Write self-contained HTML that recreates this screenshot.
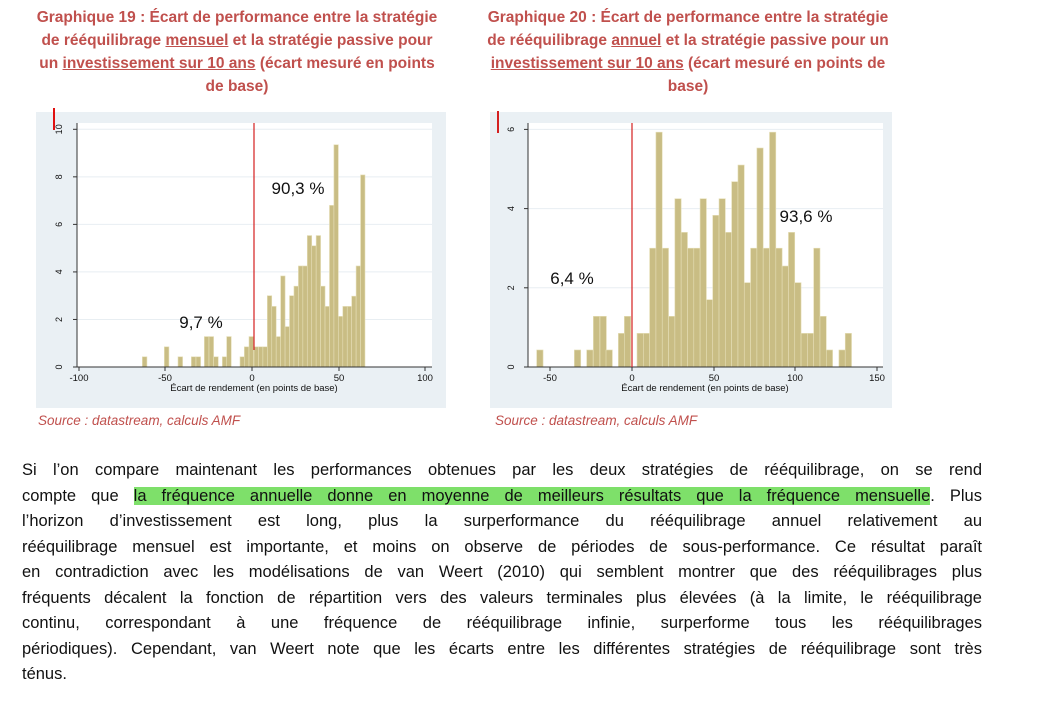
<!DOCTYPE html>
<html><head><meta charset="utf-8">
<style>
body{margin:0;width:1063px;height:706px;background:#fff;position:relative;overflow:hidden;font-family:"Liberation Sans",sans-serif}
.t{position:absolute;top:6px;width:440px;text-align:center;color:#c0504d;font-weight:bold;font-size:15.5px;line-height:23px;white-space:nowrap}
.t u{text-decoration:underline}
.src{position:absolute;top:413px;color:#c0504d;font-style:italic;font-size:13.5px}
.body{position:absolute;left:22px;top:458px;width:960px;font-size:16.5px;color:#111}
.l{height:25.5px;line-height:25.5px;text-align:justify;text-align-last:justify;white-space:nowrap}
.l.n{text-align-last:left}
.hl{background:#7ee06a}
svg{position:absolute;left:0;top:0}
</style></head><body>
<div class="t" style="left:17px">Graphique 19 : Écart de performance entre la stratégie<br>de rééquilibrage <u>mensuel</u> et la stratégie passive pour<br>un <u>investissement sur 10 ans</u> (écart mesuré en points<br>de base)</div>
<div class="t" style="left:468px">Graphique 20 : Écart de performance entre la stratégie<br>de rééquilibrage <u>annuel</u> et la stratégie passive pour un<br><u>investissement sur 10 ans</u> (écart mesuré en points de<br>base)</div>
<svg id="s" width="1063" height="420" xmlns="http://www.w3.org/2000/svg" font-family="Liberation Sans, sans-serif"></svg>
<div class="src" style="left:38px">Source : datastream, calculs AMF</div>
<div class="src" style="left:495px">Source : datastream, calculs AMF</div>
<div class="body">
<div class="l" style="white-space:normal">Si l’on compare maintenant les performances obtenues par les deux stratégies de rééquilibrage, on se rend</div>
<div class="l" style="white-space:normal">compte que <span class="hl">la fréquence annuelle donne en moyenne de meilleurs résultats que la fréquence mensuelle</span>. Plus</div>
<div class="l" style="white-space:normal">l’horizon d’investissement est long, plus la surperformance du rééquilibrage annuel relativement au</div>
<div class="l" style="white-space:normal">rééquilibrage mensuel est importante, et moins on observe de périodes de sous-performance. Ce résultat paraît</div>
<div class="l" style="white-space:normal">en contradiction avec les modélisations de van Weert (2010) qui semblent montrer que des rééquilibrages plus</div>
<div class="l" style="white-space:normal">fréquents décalent la fonction de répartition vers des valeurs terminales plus élevées (à la limite, le rééquilibrage</div>
<div class="l" style="white-space:normal">continu, correspondant à une fréquence de rééquilibrage infinie, surperforme tous les rééquilibrages</div>
<div class="l" style="white-space:normal">périodiques). Cependant, van Weert note que les écarts entre les différentes stratégies de rééquilibrage sont très</div>
<div class="l n">ténus.</div>
</div>
<script>
var s=document.getElementById('s'),h='';
function R(x,y,w,hh,f,st){h+='<rect x="'+x+'" y="'+y+'" width="'+w+'" height="'+hh+'" fill="'+f+'"'+(st?' stroke="'+st+'" stroke-width="0.6"':'')+'/>';}
function L(x1,y1,x2,y2,c,w){h+='<line x1="'+x1+'" y1="'+y1+'" x2="'+x2+'" y2="'+y2+'" stroke="'+c+'" stroke-width="'+w+'"/>';}
function T(x,y,t,sz,a,rot){h+='<text x="'+x+'" y="'+y+'" font-size="'+sz+'" text-anchor="'+(a||'middle')+'" fill="#111"'+(rot?' transform="rotate(-90 '+x+' '+y+')"':'')+'>'+t+'</text>';}
var bar='#c9bd84',edge='#e6dfb8';
R(36,112,410,296,'#eaf0f4');R(77,123,355,244,'#fff');
[0,2,4,6,8,10].forEach(function(v){var y=367-v*23.77;if(v)L(77,y,432,y,'#e8eef2',1);L(73,y,77,y,'#333',1);T(62,y,v,9,'middle',true);});
var n1=[[337,.43],[403,.85],[444,.43],[484,.43],[498,.43],[523,1.28],[537,1.28],[551,.43],[577,.43],[590,1.28],[630,.43],[643,.85],[657,1.28]];
n1.forEach(function(b){R(30+b[0]/3,367-b[1]*23.77,4.6,b[1]*23.77,bar,edge);});
var p1=[.85,.85,.85,3.0,2.55,1.28,3.83,1.7,3.0,3.4,4.25,4.25,5.53,5.1,5.53,3.4,2.55,6.8,9.35,2.13,2.55,2.55,2.98,4.25,8.08];
p1.forEach(function(v,i){R(254+i*4.44,367-v*23.77,4.44,v*23.77,bar,edge);});
L(77,123,77,367,'#333',1);L(77,367,432,367,'#333',1);
[[-100,79],[-50,165],[0,252],[50,339],[100,425]].forEach(function(t){L(t[1],367,t[1],371,'#333',1);T(t[1],381,t[0],9.5);});
T(254,391,'Écart de rendement (en points de base)',9.5);
L(254,123,254,350,'#d42020',1.2);
T(298,194,'90,3 %',17);T(201,328,'9,7 %',17);
L(54,108,54,130,'#e01010',2);
R(490,112,402,296,'#eaf0f4');R(528,123,355,244,'#fff');
[0,2,4,6].forEach(function(v){var y=367-v*39.6;if(v)L(528,y,883,y,'#e8eef2',1);L(524,y,528,y,'#333',1);T(514,y,v,9,'middle',true);});
var n2=[[155,.43],[268,.43],[305,.43],[325,1.28],[345,1.28],[363,.43],[400,.85],[418,1.28]];
n2.forEach(function(b){R(485+b[0]/3,367-b[1]*39.6,6.4,b[1]*39.6,bar,edge);});
var p2=[.85,.85,3.0,5.93,3.0,1.28,4.25,3.4,3.0,3.0,4.25,1.7,3.83,4.25,3.4,4.68,5.1,2.13,3.0,5.53,3.0,5.93,3.0,2.55,3.4,2.13,.85,.85,3.0,1.28,.43,0,.43,.85];
p2.forEach(function(v,i){if(v)R(637+i*6.31,367-v*39.6,6.31,v*39.6,bar,edge);});
L(528,123,528,367,'#333',1);L(528,367,883,367,'#333',1);
[[-50,550],[0,632],[50,714],[100,795],[150,877]].forEach(function(t){L(t[1],367,t[1],371,'#333',1);T(t[1],381,t[0],9.5);});
T(705,391,'Écart de rendement (en points de base)',9.5);
L(632,123,632,367,'#d42020',1.2);
T(806,222,'93,6 %',17);T(572,284,'6,4 %',17);
L(498,111,498,133,'#d42020',2);
s.innerHTML=h;
</script>
</body></html>
